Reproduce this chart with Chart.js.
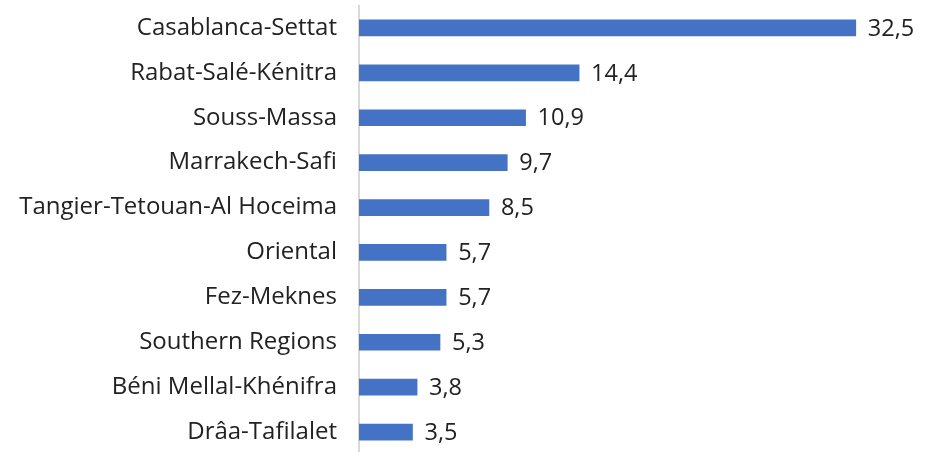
<!DOCTYPE html>
<html>
<head>
<meta charset="utf-8">
<script src="https://cdn.jsdelivr.net/npm/chart.js@4/dist/chart.umd.min.js"></script>
<style>
html,body{margin:0;padding:0;background:#fff;overflow:hidden;}
canvas{display:block;}
</style>
</head>
<body>
<canvas id="c" width="937" height="460" style="width:937px;height:460px"></canvas>
<script>
const categories = ["Casablanca-Settat","Rabat-Salé-Kénitra","Souss-Massa","Marrakech-Safi","Tangier-Tetouan-Al Hoceima","Oriental","Fez-Meknes","Southern Regions","Béni Mellal-Khénifra","Drâa-Tafilalet"];
const values = [32.5,14.4,10.9,9.7,8.5,5.7,5.7,5.3,3.8,3.5];
const valueLabels = ["32,5","14,4","10,9","9,7","8,5","5,7","5,7","5,3","3,8","3,5"];

const FONT = "'Open Sans', sans-serif";
const FSIZE = 24;

const labelPlugin = {
  id: 'barLabels',
  afterDatasetsDraw(chart) {
    const ctx = chart.ctx;
    const meta = chart.getDatasetMeta(0);
    ctx.save();
    ctx.font = "23.5px " + FONT;
    ctx.fillStyle = "#222222";
    ctx.textAlign = "left";
    ctx.textBaseline = "middle";
    meta.data.forEach((bar, i) => {
      ctx.fillText(valueLabels[i], bar.x + 12, bar.y + 1);
    });
    ctx.restore();
  }
};

new Chart(document.getElementById('c'), {
  type: 'bar',
  data: {
    labels: categories,
    datasets: [{
      data: values,
      backgroundColor: '#4472c4',
      borderWidth: 0,
      barThickness: 16
    }]
  },
  options: {
    indexAxis: 'y',
    responsive: false,
    maintainAspectRatio: false,
    animation: false,
    layout: { padding: { top: 5.5, bottom: 5.5, right: 43, left: 0 } },
    plugins: { legend: { display: false }, tooltip: { enabled: false } },
    scales: {
      x: {
        display: false,
        min: 0,
        max: 35
      },
      y: {
        afterFit(scale) {
          scale.width = 359;
          scale.paddingTop = 0;
          scale.paddingBottom = 0;
        },
        grid: { display: false, drawTicks: false },
        border: { display: true, color: '#d9d9d9', width: 2 },
        ticks: {
          padding: 22,
          color: '#222222',
          font: { family: FONT, size: FSIZE }
        }
      }
    }
  },
  plugins: [labelPlugin]
});
</script>
</body>
</html>
